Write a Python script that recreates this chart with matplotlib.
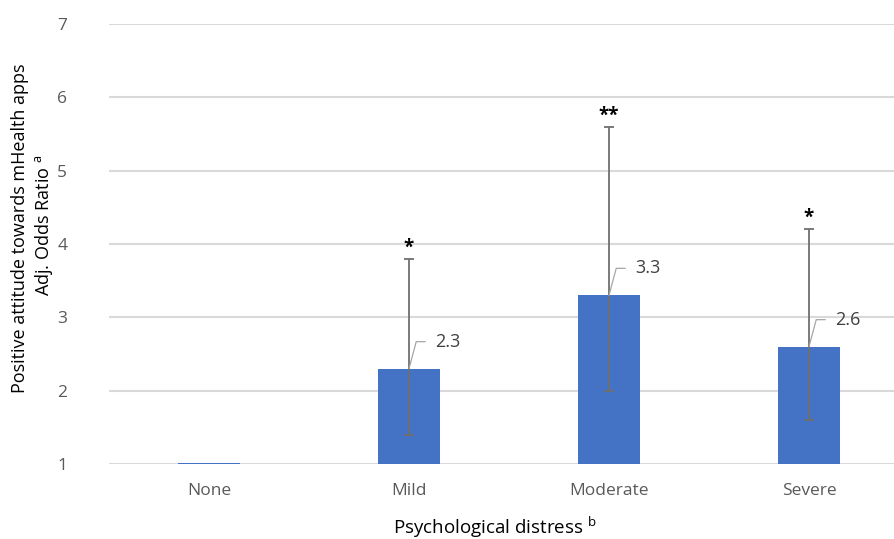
import numpy as np
import matplotlib
matplotlib.use("Agg")
import matplotlib.pyplot as plt

plt.rcParams['font.family'] = ['Open Sans', 'DejaVu Sans']
plt.rcParams['mathtext.fontset'] = 'custom'
plt.rcParams['mathtext.rm'] = 'Open Sans'

# data
categories = ['None', 'Mild', 'Moderate', 'Severe']
odds_ratio = [1.02, 2.3, 3.3, 2.6]
ci_lower = [1.02, 1.4, 2.0, 1.6]
ci_upper = [1.02, 3.8, 5.6, 4.2]
value_labels = ['', '2.3', '3.3', '2.6']
stars = ['', '*', '**', '*']

fig = plt.figure(figsize=(8.95, 5.39), dpi=100)
# axes reaches past the right edge like the cropped original
ax = fig.add_axes([109 / 895, 1 - 464 / 539, 800 / 895, 440 / 539])

x = np.arange(len(categories))
vals = np.array(odds_ratio)
yerr = [vals - np.array(ci_lower), np.array(ci_upper) - vals]

ax.bar(x, vals, width=0.31, color='#4472C4', zorder=2)
ax.errorbar(x[1:], vals[1:], yerr=[yerr[0][1:], yerr[1][1:]], fmt='none',
            ecolor='#707070', elinewidth=1.3, capsize=3.6, capthick=1.3, zorder=3)

ax.set_xlim(-0.5, 3.5)
ax.set_ylim(1, 7)
ax.set_yticks(range(1, 8))
ax.set_xticks(x)
ax.set_xticklabels(categories)
ax.yaxis.grid(True, color='#d9d9d9', lw=1.5, zorder=0)
ax.set_axisbelow(True)
for s in ax.spines.values():
    s.set_visible(False)
ax.tick_params(axis='both', length=0, labelsize=12.5, labelcolor='#595959')
ax.tick_params(axis='y', pad=30)
ax.tick_params(axis='x', pad=14)

# value labels with leader lines, Excel style
for xi, v, lab in zip(x, vals, value_labels):
    if not lab:
        continue
    ax.annotate(lab, xy=(xi, v), xytext=(26, 27), textcoords='offset pixels',
                ha='left', va='center', fontsize=13, color='#404040',
                arrowprops=dict(arrowstyle='-', color='#a6a6a6', lw=0.9,
                                relpos=(0, 0.5), shrinkA=5, shrinkB=0,
                                connectionstyle='angle,angleA=0,angleB=75,rad=0'))

# significance stars
for xi, up, st in zip(x, ci_upper, stars):
    if not st:
        continue
    ax.annotate(st, xy=(xi, up), xytext=(0, 1), textcoords='offset pixels',
                ha='center', va='bottom', fontsize=13.5, fontweight='bold', color='black')

fig.text(495 / 895, 1 - 527 / 539, r'Psychological distress $^{\mathregular{b}}$',
         ha='center', va='center', fontsize=13.5)
fig.text(20 / 895, 1 - 228 / 539, 'Positive attitude towards mHealth apps',
         rotation=90, ha='center', va='center', fontsize=13)
fig.text(44 / 895, 1 - 225 / 539, r'Adj. Odds Ratio $^{\mathregular{a}}$',
         rotation=90, ha='center', va='center', fontsize=13)

fig.savefig('out.png', dpi=100)
